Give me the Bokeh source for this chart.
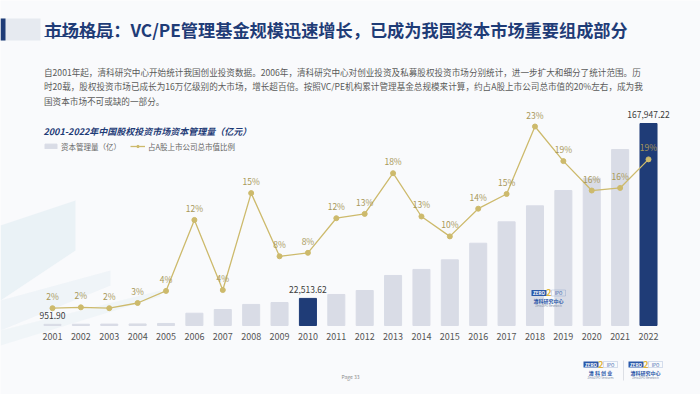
from bokeh.plotting import figure
from bokeh.models import (ColumnDataSource, FactorRange, Range1d, Label, LabelSet,
                          BoxAnnotation, PolyAnnotation, Legend, LegendItem)
from bokeh.core.properties import value
from bokeh.embed import file_html
from bokeh.resources import INLINE

# ---------------- data ----------------
years = [str(y) for y in range(2001, 2023)]
capital = [951.90, 1050, 1150, 1300, 1700, 10200, 13300, 17500, 19100, 22513.62,
           25800, 29100, 41600, 46600, 54600, 68400, 86200, 99500, 112200, 122500,
           146300, 167947.22]
capital_labels = ["951.90", "", "", "", "", "", "", "", "", "22,513.62",
                  "", "", "", "", "", "", "", "", "", "", "", "167,947.22"]
highlight_years = ["2010", "2022"]
share = [2.0, 2.1, 2.0, 2.6, 4.0, 12.2, 4.1, 15.3, 8.0, 8.4, 12.4, 12.9, 17.6,
         12.6, 10.3, 13.5, 15.2, 23.0, 19.0, 15.6, 15.9, 19.2]
share_labels = ["2%", "2%", "2%", "3%", "4%", "12%", "4%", "15%", "8%", "8%", "12%",
                "13%", "18%", "13%", "10%", "14%", "15%", "23%", "19%", "16%", "16%", "19%"]

title_text = "市场格局：VC/PE管理基金规模迅速增长，已成为我国资本市场重要组成部分"
para_lines = [
    "自2001年起，清科研究中心开始统计我国创业投资数据。2006年，清科研究中心对创业投资及私募股权投资市场分别统计，进一步扩大和细分了统计范围。历",
    "时20载，股权投资市场已成长为16万亿级别的大市场，增长超百倍。按照VC/PE机构累计管理基金总规模来计算，约占A股上市公司总市值的20%左右，成为我",
    "国资本市场不可或缺的一部分。",
]
chart_title = "2001-2022年中国股权投资市场资本管理量（亿元）"
legend_labels = ["资本管理量（亿）", "占A股上市公司总市值比例"]

# ---------------- style ----------------
FONT = "Noto Sans CJK SC"
BG = "#F9FAFC"
NAVY = "#1F3C77"
GRAY_BAR = "#D9DCE6"
GOLD = "#CDBA6C"
PCT = "#A89858"
LOGO_BLUE = "#2A58A8"

W, H = 700, 394
BASE_Y = 325          # page px of the bar baseline
BAR_PX = 202          # px height of the tallest bar
PCT_PX = 199          # px height of the 23% point

colors = [NAVY if y in highlight_years else GRAY_BAR for y in years]
src = ColumnDataSource(dict(year=years, capital=capital, cap_label=capital_labels,
                            share=share, share_label=share_labels, color=colors))

k1 = BAR_PX / max(capital)
k2 = PCT_PX / max(share)
p = figure(width=W, height=H,
           x_range=FactorRange(*years, range_padding=1.332, range_padding_units="absolute"),
           y_range=Range1d(-(H - BASE_Y) / k1, BASE_Y / k1),
           output_backend="svg", toolbar_location=None,
           min_border_left=0, min_border_right=0, min_border_top=0, min_border_bottom=0,
           background_fill_color=BG, border_fill_color=BG,
           outline_line_color=None, y_axis_location=None)
p.extra_y_ranges = {"share": Range1d(-(H - BASE_Y) / k2, BASE_Y / k2)}
p.grid.visible = False


def text(X, Y, s, size, color, style="normal", align="left", baseline="middle", alpha=1.0):
    p.add_layout(Label(x=X, y=H - Y, x_units="screen", y_units="screen", text=s,
                       text_font=FONT, text_font_size=f"{size}px", text_color=color,
                       text_font_style=style, text_align=align, text_baseline=baseline,
                       text_alpha=alpha))


def box(X0, Y0, X1, Y1, fill, line=None, alpha=1.0, level="annotation"):
    p.add_layout(BoxAnnotation(left=X0, right=X1, top=H - Y0, bottom=H - Y1,
                               left_units="screen", right_units="screen",
                               top_units="screen", bottom_units="screen",
                               fill_color=fill, fill_alpha=alpha if fill else 0,
                               line_color=line, line_width=0.6, level=level))


def poly(pts, fill, alpha):
    p.add_layout(PolyAnnotation(xs=[a for a, b in pts], ys=[H - b for a, b in pts],
                                xs_units="screen", ys_units="screen", fill_color=fill,
                                fill_alpha=alpha, line_color=None, level="underlay"))


def logo(X0, Y0, cn, en):
    box(X0, Y0, X0 + 15, Y0 + 6, LOGO_BLUE)
    text(X0 + 7.5, Y0 + 3.2, "ZERO", 4.5, "white", style="bold", align="center")
    text(X0 + 17.5, Y0 + 2.5, "2", 9, "#E0B43A", style="bold", align="center")
    box(X0 + 20, Y0, X0 + 34, Y0 + 6, None, line=LOGO_BLUE)
    text(X0 + 27, Y0 + 3.2, "IPO", 4.5, LOGO_BLUE, align="center")
    text(X0 + 17, Y0 + 10.5, cn, 5, LOGO_BLUE, style="bold", align="center")
    text(X0 + 17, Y0 + 16, en, 3, "#8090A8", align="center")


# background decorations
poly([(0, 225), (75, 200), (75, 250), (0, 300)], "#CFE3EC", 0.35)
poly([(0, 300), (110, 270), (110, 285), (0, 330)], "#DCE9F0", 0.35)
poly([(0, 330), (160, 290), (160, 296), (0, 345)], "#E3EDF2", 0.4)

# title block
box(0, 18, 40, 40, "#E6EAF0")
box(0, 18, 5, 40, NAVY)
text(44, 28.5, title_text, 17.2, NAVY, style="bold")
box(44, 35.5, 113, 36.5, NAVY)

# paragraph
for i, line in enumerate(para_lines):
    text(43.5, 71 + i * 14.7, line, 8.6, "#5A5A5A")

# chart title
text(43, 130.5, chart_title, 9, NAVY, style="bold italic")

# bars + line
bars = p.vbar(x="year", top="capital", width=0.6, color="color", source=src)
ln = p.line(x="year", y="share", y_range_name="share", line_color=GOLD, line_width=1.3, source=src)
dots = p.scatter(x="year", y="share", y_range_name="share", size=5, color=GOLD, source=src)

p.add_layout(LabelSet(x="year", y="share", text="share_label", y_range_name="share",
                      y_offset=12, text_align="center", text_baseline="middle",
                      text_font=value(FONT), text_font_size="8.5px", text_color=PCT, source=src))
p.add_layout(LabelSet(x="year", y="capital", text="cap_label", y_offset=9,
                      text_align="center", text_baseline="middle",
                      text_font=value(FONT), text_font_size="8.5px", text_color="#3A3A3A",
                      source=src))

legend = Legend(items=[LegendItem(label=legend_labels[0], renderers=[bars], index=0),
                       LegendItem(label=legend_labels[1], renderers=[ln, dots])],
                location=(43, H - 151.7), orientation="horizontal",
                label_text_font=FONT, label_text_font_size="7.5px", label_text_color="#666666",
                glyph_width=15, glyph_height=6, label_height=8, label_standoff=3,
                spacing=9, padding=0, margin=0, border_line_color=None,
                background_fill_alpha=0)
p.add_layout(legend)

# x axis drawn at the baseline
ax = p.xaxis[0]
ax.fixed_location = 0
ax.axis_line_color = None
ax.major_tick_line_color = None
ax.major_tick_out = 0
ax.major_tick_in = 0
ax.major_label_standoff = 7
ax.major_label_text_font = FONT
ax.major_label_text_font_size = "9px"
ax.major_label_text_color = "#555555"

# logos and footer
logo(531, 289.5, "清科研究中心", "Zero2IPO Research")
logo(583, 361, "清 科 创 业", "Zero2IPO Ventures")
logo(628, 361, "清科研究中心", "Zero2IPO Research")
box(622.7, 360, 623.3, 380, "#C8CDD6")
text(350, 376, "Page 33", 5, "#8A8A8A", align="center")

open("out.html", "w").write(file_html(p, INLINE))
